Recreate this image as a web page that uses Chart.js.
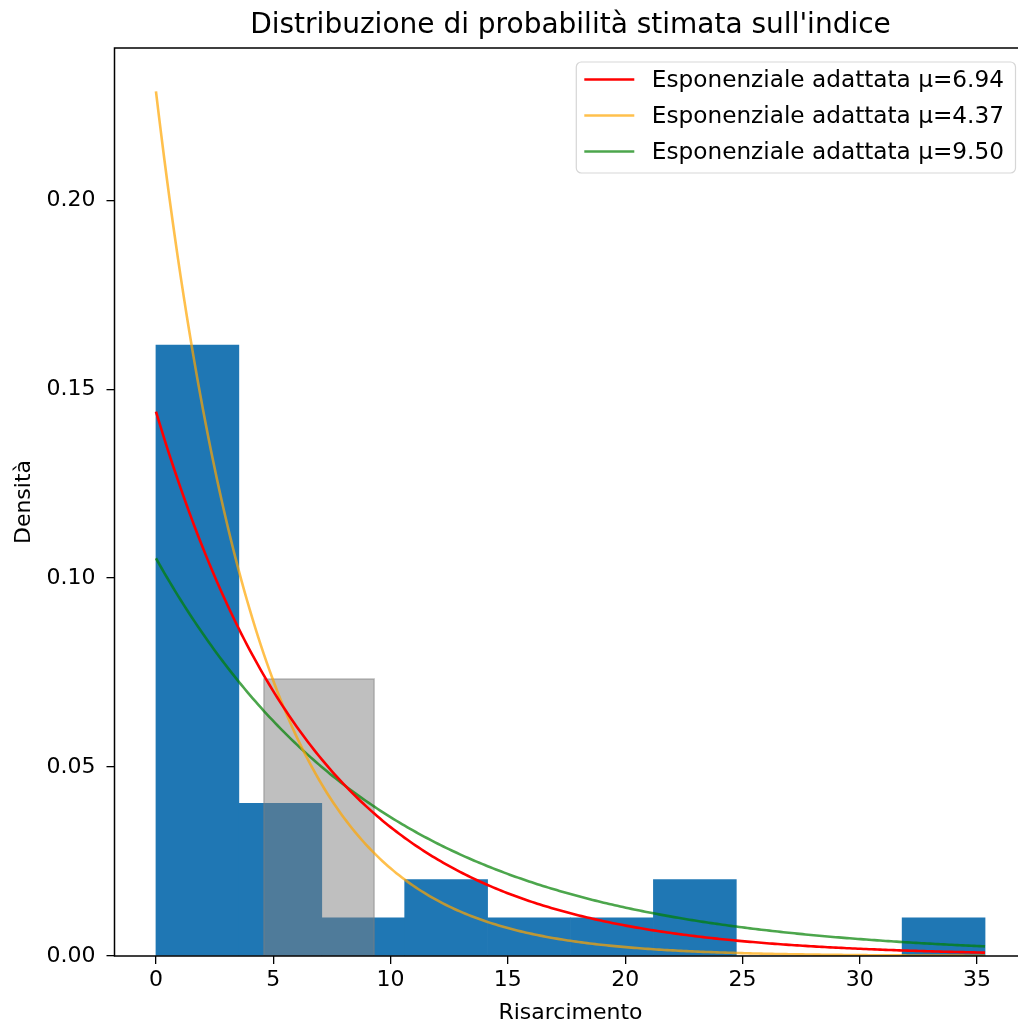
<!DOCTYPE html>
<html>
<head>
<meta charset="utf-8">
<script src="https://cdn.jsdelivr.net/npm/chart.js@4.4.1/dist/chart.umd.min.js"></script>
<style>
  html, body { margin: 0; padding: 0; overflow: hidden; background: #fff; }
  #wrap { position: absolute; left: 0; top: 0; width: 1018px; height: 1026px; overflow: hidden; }
  canvas { position: absolute; left: 0; top: 0; }
</style>
</head>
<body>
<div id="wrap"><canvas id="histChart" width="1141" height="1026"></canvas></div>
<script>
// Istogramma (densità) dei risarcimenti, 10 classi
const binEdges = [0, 3.534, 7.068, 10.602, 14.136, 17.670, 21.204, 24.738, 28.272, 31.806, 35.34];
const density = [0.1617, 0.0404, 0.0101, 0.0202, 0.0101, 0.0101, 0.0202, 0, 0, 0.0101];

// Fascia evidenziata in grigio
const bandEdges = [4.6, 9.3];
const bandHeight = 0.0733;

// Medie delle esponenziali adattate
const fitMeans = [6.94, 4.37, 9.50];
const fitColors = ['#ff0000', 'rgba(255,165,0,0.7)', 'rgba(0,128,0,0.7)'];

// Limiti degli assi
const xLimits = [-1.767, 37.107];
const yLimits = [0, 0.2403];

const FONT = 'DejaVu Sans';

const barData = density.map((d, i) => ({ x: (binEdges[i] + binEdges[i + 1]) / 2, y: d }));

const bandData = [
  { x: bandEdges[0], y: 0 }, { x: bandEdges[0], y: bandHeight },
  { x: bandEdges[1], y: bandHeight }, { x: bandEdges[1], y: 0 }
];

// densità esponenziale f(x) = exp(-x/mu)/mu sull'intervallo dei dati
function expPdf(mu) {
  const n = 300, x0 = binEdges[0], x1 = binEdges[binEdges.length - 1];
  const pts = [];
  for (let i = 0; i <= n; i++) {
    const x = x0 + (x1 - x0) * i / n;
    pts.push({ x: x, y: Math.exp(-x / mu) / mu });
  }
  return pts;
}

const curveSets = fitMeans.map((mu, i) => ({
  type: 'line',
  label: 'Esponenziale adattata \u03bc=' + mu.toFixed(2),
  data: expPdf(mu),
  borderColor: fitColors[i],
  borderWidth: 2.6,
  pointRadius: 0,
  tension: 0,
  fill: false,
  order: 1,
  showInLegend: true
}));

// cornice degli assi
const framePlugin = {
  id: 'frame',
  afterDatasetsDraw(chart) {
    const a = chart.chartArea, ctx = chart.ctx;
    ctx.save();
    ctx.strokeStyle = '#000';
    ctx.lineWidth = 1.5;
    ctx.strokeRect(a.left, a.top, a.right - a.left, a.bottom - a.top);
    ctx.restore();
  }
};

// legenda nell'angolo in alto a destra
const boxLegend = {
  id: 'boxLegend',
  afterDraw(chart) {
    const ctx = chart.ctx, a = chart.chartArea;
    const items = chart.data.datasets.filter(d => d.showInLegend);
    ctx.save();
    ctx.font = '23.2px "' + FONT + '"';
    const textW = Math.max(...items.map(d => ctx.measureText(d.label).width));
    const w = 8 + 50 + 17.5 + textW + 11.5;
    const h = 111;
    const right = a.right - 11, top = a.top + 14;
    const left = right - w;
    ctx.fillStyle = 'rgba(255,255,255,0.8)';
    ctx.strokeStyle = 'rgba(204,204,204,0.8)';
    ctx.lineWidth = 1.2;
    ctx.beginPath();
    ctx.roundRect(left, top, w, h, 5);
    ctx.fill();
    ctx.stroke();
    items.forEach((d, i) => {
      const y = top + 17.5 + i * 36;
      ctx.strokeStyle = d.borderColor;
      ctx.lineWidth = 2.6;
      ctx.beginPath();
      ctx.moveTo(left + 8, y);
      ctx.lineTo(left + 58, y);
      ctx.stroke();
      ctx.fillStyle = '#000';
      ctx.textBaseline = 'middle';
      ctx.textAlign = 'left';
      ctx.fillText(d.label, left + 75.5, y + 1);
    });
    ctx.restore();
  }
};

const ctx = document.getElementById('histChart').getContext('2d');
new Chart(ctx, {
  type: 'line',
  data: {
    datasets: [
      {
        type: 'bar',
        label: 'Istogramma',
        data: barData,
        backgroundColor: '#1f77b4',
        borderWidth: 0,
        barPercentage: 1,
        categoryPercentage: 1,
        order: 3
      },
      {
        type: 'line',
        label: 'Fascia',
        data: bandData,
        backgroundColor: 'rgba(128,128,128,0.5)',
        borderColor: 'rgba(128,128,128,0.5)',
        borderWidth: 1.5,
        pointRadius: 0,
        tension: 0,
        fill: 'origin',
        order: 2
      },
      ...curveSets
    ]
  },
  options: {
    responsive: false,
    animation: false,
    devicePixelRatio: 1,
    layout: { padding: 0 },
    plugins: {
      legend: { display: false },
      tooltip: { enabled: false },
      title: {
        display: true,
        text: "Distribuzione di probabilità stimata sull'indice",
        color: '#000',
        font: { family: FONT, size: 28, weight: 'normal', lineHeight: 1.2 },
        padding: { top: 8.5, bottom: 5.9 }
      }
    },
    scales: {
      x: {
        type: 'linear',
        min: xLimits[0],
        max: xLimits[1],
        offset: false,
        grid: { display: true, drawOnChartArea: false, drawTicks: true, tickLength: 8, tickColor: '#000', lineWidth: 1.3, offset: false },
        border: { display: false },
        ticks: {
          stepSize: 5,
          includeBounds: false,
          autoSkip: false,
          maxRotation: 0,
          padding: 3,
          color: '#000',
          font: { family: FONT, size: 22 },
          callback: v => String(v)
        },
        title: {
          display: true,
          text: 'Risarcimento',
          color: '#000',
          font: { family: FONT, size: 22 },
          padding: { top: 0, bottom: 0 }
        },
        afterFit(scale) { scale.height = 70; }
      },
      y: {
        type: 'linear',
        position: 'left',
        min: yLimits[0],
        max: yLimits[1],
        grid: { display: true, drawOnChartArea: false, drawTicks: true, tickLength: 8, tickColor: '#000', lineWidth: 1.3 },
        border: { display: false },
        ticks: {
          stepSize: 0.05,
          includeBounds: false,
          padding: 11,
          color: '#000',
          font: { family: FONT, size: 22 },
          callback: v => v.toFixed(2)
        },
        title: {
          display: true,
          text: 'Densità',
          color: '#000',
          font: { family: FONT, size: 22 },
          padding: { top: 11, bottom: 0 }
        },
        afterFit(scale) { scale.width = 114.5; }
      },
      // asse vuoto a destra: tiene l'area del grafico simmetrica sotto il titolo
      yRight: {
        type: 'linear',
        position: 'right',
        min: yLimits[0],
        max: yLimits[1],
        grid: { display: false },
        border: { display: false },
        ticks: { display: false },
        afterFit(scale) { scale.width = 114.5; }
      }
    }
  },
  plugins: [framePlugin, boxLegend]
});
</script>
</body>
</html>
